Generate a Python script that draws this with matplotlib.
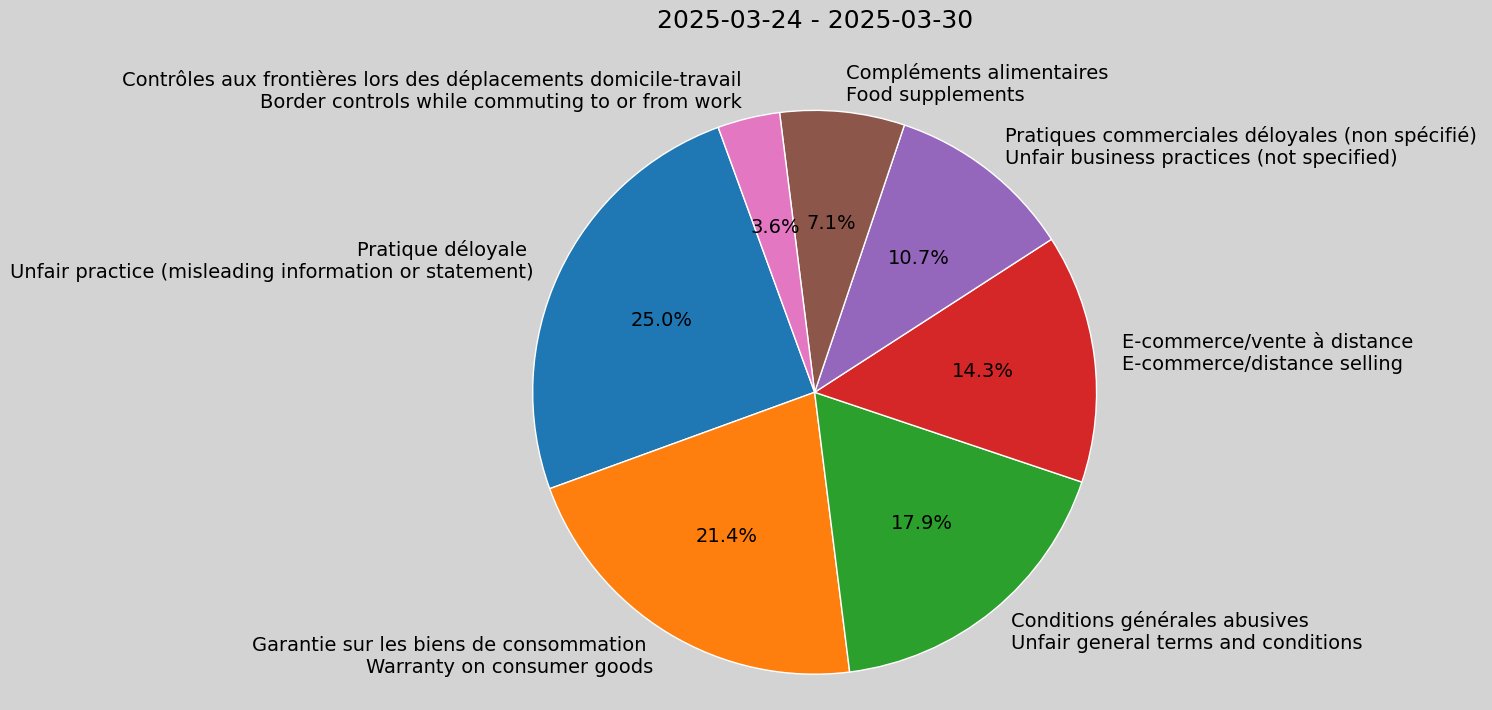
import matplotlib
matplotlib.use("Agg")
import matplotlib.pyplot as plt

labels = [
    "Pratique déloyale \nUnfair practice (misleading information or statement)",
    "Garantie sur les biens de consommation \nWarranty on consumer goods",
    "Conditions générales abusives\nUnfair general terms and conditions",
    "E-commerce/vente à distance\nE-commerce/distance selling",
    "Pratiques commerciales déloyales (non spécifié)\nUnfair business practices (not specified)",
    "Compléments alimentaires\nFood supplements",
    "Contrôles aux frontières lors des déplacements domicile-travail\nBorder controls while commuting to or from work",
]
counts = [7, 6, 5, 4, 3, 2, 1]
title = "2025-03-24 - 2025-03-30"

fig = plt.figure(figsize=(14.92, 7.10), dpi=100, facecolor="lightgray")
ax = fig.add_axes([0.319, -0.029, 0.454, 0.953])
ax.set_facecolor("lightgray")
wedges, texts, autotexts = ax.pie(counts, labels=labels, autopct="%1.1f%%",
                                  startangle=110, wedgeprops=dict(edgecolor="white"),
                                  textprops=dict(fontsize=14))
for t in texts + autotexts:
    t.set_clip_on(False)
ax.set_xlim(-1.2, 1.2)
ax.set_ylim(-1.2, 1.2)
ax.set_aspect("equal")
fig.text(0.546, 0.97, title, ha="center", va="center", fontsize=18)
fig.savefig("out.png", facecolor="lightgray")
